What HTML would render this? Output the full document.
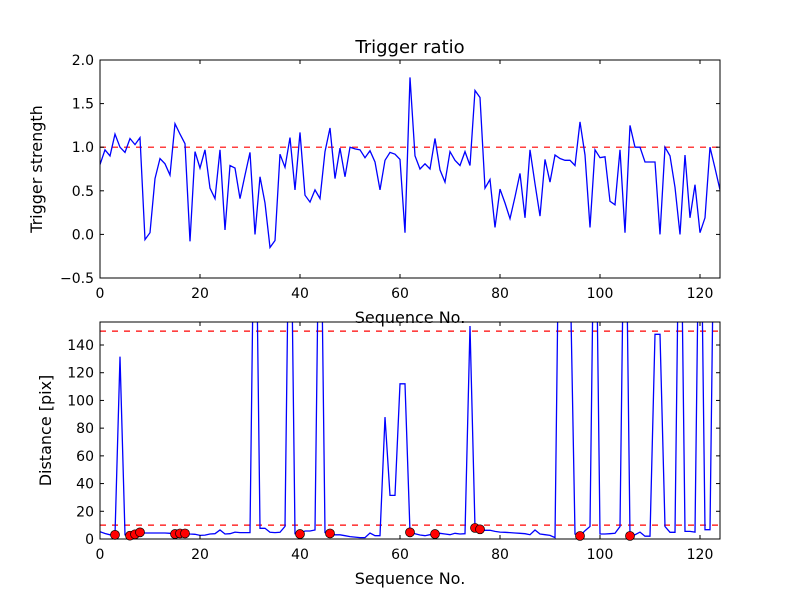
<!DOCTYPE html>
<html><head><meta charset="utf-8"><style>
body{margin:0;background:#fff;}
svg{display:block;font-family:"DejaVu Sans","Liberation Sans",sans-serif;}
</style></head><body>
<svg id="chart" width="800" height="600" viewBox="0 0 800 600" xmlns="http://www.w3.org/2000/svg">
<rect width="800" height="600" fill="#fff"/>
<text x="410" y="53" font-size="18" text-anchor="middle">Trigger ratio</text>
<g id="top"></g>
<g id="bot"></g>
</svg>
<script>
const ratio = [0.80,0.97,0.90,1.15,1.0,0.94,1.10,1.03,1.11,-0.06,0.02,0.64,0.87,0.81,0.68,1.27,1.15,1.04,-0.08,0.95,0.76,0.97,0.53,0.41,0.97,0.05,0.79,0.76,0.41,0.68,0.94,0.0,0.66,0.36,-0.15,-0.07,0.92,0.77,1.11,0.51,1.17,0.45,0.37,0.51,0.41,0.95,1.22,0.64,0.99,0.66,1.0,0.98,0.97,0.88,0.96,0.83,0.51,0.85,0.94,0.92,0.86,0.02,1.80,0.90,0.75,0.81,0.75,1.10,0.74,0.60,0.95,0.85,0.79,0.95,0.79,1.65,1.57,0.53,0.63,0.08,0.52,0.36,0.18,0.43,0.70,0.19,0.97,0.58,0.21,0.86,0.60,0.91,0.87,0.85,0.85,0.79,1.29,0.91,0.08,0.97,0.88,0.89,0.38,0.34,0.97,0.02,1.25,1.0,1.0,0.83,0.83,0.83,0.0,1.0,0.90,0.54,0.0,0.91,0.19,0.57,0.02,0.19,1.0,0.76,0.51];
const distance = [5.3,4,3,3,131.6,3,2.4,3.4,4.8,4.3,4.3,4.3,4.3,4.3,4.1,3.6,4,4,3.6,3.4,2.6,2.8,3.6,3.8,6.5,3.6,3.8,5,4.6,4.6,4.6,300,7.7,7.7,4.8,4.6,4.8,9.1,300,3.8,3.6,5.8,5.8,6.5,300,4.6,4,3,3,2.4,1.7,1.4,1,1,4.3,2.4,2.4,88,31.5,31.5,112,112,4.8,3.8,2.9,2.4,3.1,3.6,4.1,3.6,3.1,4.1,3.6,3.8,153.7,8,7,6.3,6.3,5.5,5,4.8,4.6,4.3,4.1,3.8,3.1,6.5,3.6,3.1,2.6,1,300,300,200,3.6,2.2,6,9,300,3.6,3.6,3.8,4.1,9,300,2.2,3,5,2,2,147.7,147.7,9,4.8,4.8,300,5.5,5.5,5,300,6.7,6.7,300,300];
const markerIdx = [3,6,7,8,15,16,17,40,46,62,67,75,76,96,106];
const topYTicks = [-0.5,0.0,0.5,1.0,1.5,2.0];
const botYTicks = [0,20,40,60,80,100,120,140];
const xTicks = [0,20,40,60,80,100,120];
const NS="http://www.w3.org/2000/svg";
function mk(p,tag,attrs,txt){const e=document.createElementNS(NS,tag);for(const k in attrs)e.setAttribute(k,attrs[k]);if(txt!==undefined)e.textContent=txt;p.appendChild(e);return e;}
const L=100,R=720,XMAX=124;
const xs=v=>L+(R-L)*v/XMAX;
function panel(g,T,B,ymin,ymax,yticks,fmt,vals,ylab,labX,refs,cid){
  const ys=v=>B-(B-T)*(v-ymin)/(ymax-ymin);
  const cp=mk(g,'clipPath',{id:cid});mk(cp,'rect',{x:L,y:T,width:R-L,height:B-T});
  let d='';vals.forEach((v,i)=>{d+=(i?'L':'M')+xs(i).toFixed(1)+','+ys(v).toFixed(1);});
  for(const r of refs){const rl=mk(g,'line',{x1:L,x2:R,y1:ys(r),y2:ys(r),stroke:'#f00','stroke-width':1.2,'stroke-dasharray':'6,6','clip-path':`url(#${cid})`});
    
    }
  const line=mk(g,'path',{d,fill:'none',stroke:'#00f','stroke-width':1.3,'clip-path':`url(#${cid})`});
  
  
  mk(g,'rect',{x:L,y:T,width:R-L,height:B-T,fill:'none',stroke:'#000','stroke-width':1});
  for(const t of xTicks){const x=xs(t);
    mk(g,'line',{x1:x,x2:x,y1:B,y2:B-4,stroke:'#000'});mk(g,'line',{x1:x,x2:x,y1:T,y2:T+4,stroke:'#000'});
    const tl=mk(g,'text',{x,y:B+20,'font-size':14,'text-anchor':'middle'},String(t));
    
    }
  for(const t of yticks){const y=ys(t);
    mk(g,'line',{x1:L,x2:L+4,y1:y,y2:y,stroke:'#000'});mk(g,'line',{x1:R,x2:R-4,y1:y,y2:y,stroke:'#000'});
    const tl=mk(g,'text',{x:L-6,y:y+5,'font-size':14,'text-anchor':'end'},fmt(t));
    
    }
  const xl=mk(g,'text',{x:410,y:B+45,'font-size':16,'text-anchor':'middle'},'Sequence No.');
  
  
  const yl=mk(g,'text',{x:labX,y:(T+B)/2,'font-size':16,'text-anchor':'middle',transform:`rotate(-90 ${labX} ${(T+B)/2})`},ylab);
  
  
  return ys;
}
const gt=document.getElementById('top'),gb=document.getElementById('bot');
panel(gt,60,278,-0.5,2.0,topYTicks,t=>t.toFixed(1).replace('-','\u2212'),ratio,'Trigger strength',42,[1.0],'c1');
const ysb=panel(gb,322,539,0,156.6,botYTicks,t=>String(t),distance,'Distance [pix]',51,[10,150],'c2');
for(const i of markerIdx){const c=mk(gb,'circle',{cx:xs(i),cy:ysb(distance[i]),r:4.5,fill:'#f00',stroke:'#000','stroke-width':0.7});
  
  }
</script>
</body></html>
